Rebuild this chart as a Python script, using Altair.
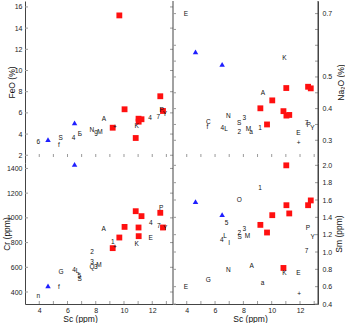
import altair as alt
import pandas as pd

# ---------------- data ----------------
# red squares (9 samples)
red_sc = [9.2, 9.67, 10.04, 10.83, 11.03, 11.04, 11.24, 12.57, 12.76]
red_feo = [4.6, 15.2, 6.34, 3.63, 5.45, 5.17, 5.4, 7.57, 6.18]
red_na2o = [0.401, 0.35, 0.426, 0.392, 0.465, 0.378, 0.38, 0.469, 0.464]
red_cr = [755, 841, 927, 1054, 922, 852, 1014, 1041, 922]
red_sm = [1.313, 1.225, 1.425, 0.816, 2.0, 1.54, 1.445, 1.54, 1.595]

# blue triangles (2 samples)
blue_sc = [4.62, 6.5]
blue_feo = [3.47, 5.05]
blue_na2o = [0.579, 0.54]
blue_cr = [449, 1433]
blue_sm = [1.58, 1.43]

# labelled points, FeO panel
feo_txt = ["6", "S", "f", "4", "Б", "N", "g", "M", "A", "+", "K", "4", "7", "P", "Y"]
feo_sc = [3.93, 5.51, 5.39, 6.43, 6.88, 7.72, 8.02, 8.3, 8.58, 9.36, 10.9, 11.84, 12.43, 12.66, 12.9]
feo_val = [3.23, 3.6, 2.94, 3.6, 3.98, 4.36, 4.15, 4.2, 5.45, 4.67, 4.73, 5.55, 5.6, 6.27, 5.93]

# labelled points, Na2O panel
na_txt = ["E", "K", "A", "N", "C", "f", "3", "S", "4", "L", "2", "M", "a", "1", "E", "+", "7", "P", "Y"]
na_sc = [3.95, 10.89, 9.38, 6.94, 5.53, 5.46, 8.07, 7.71, 6.51, 6.77, 7.71, 8.35, 8.54, 9.17, 11.88, 11.9, 12.47, 12.62, 12.87]
na_val = [0.70, 0.559, 0.449, 0.377, 0.359, 0.342, 0.371, 0.354, 0.34, 0.337, 0.327, 0.337, 0.326, 0.34, 0.324, 0.292, 0.355, 0.347, 0.338]

# labelled points, Cr panel
cr_txt = ["n", "f", "G", "4", "L", "5", "S", "2", "3", "Q", "3", "M", "A", "1", "+", "K", "E", "4", "7", "Y", "P"]
cr_sc = [3.93, 5.39, 5.54, 6.46, 6.72, 6.83, 6.86, 7.73, 7.73, 7.73, 8.0, 8.23, 8.56, 9.2, 9.36, 10.9, 11.89, 11.9, 12.47, 12.92, 12.64]
cr_val = [365, 438, 560, 576, 568, 527, 507, 720, 646, 602, 600, 617, 906, 803, 765, 792, 838, 957, 938, 922, 1081]

# labelled points, Sm panel
sm_txt = ["1", "O", "5", "3", "2", "S", "M", "L", "4", "I", "P", "Y", "7", "A", "N", "K", "E", "G", "a", "E", "+"]
sm_sc = [9.17, 7.71, 6.82, 8.07, 7.71, 7.73, 8.28, 6.7, 6.47, 7.0, 12.56, 12.89, 12.47, 8.59, 6.94, 10.89, 11.88, 5.53, 9.36, 3.95, 11.93]
sm_val = [1.74, 1.595, 1.337, 1.26, 1.22, 1.17, 1.18, 1.19, 1.136, 1.10, 1.28, 1.17, 1.017, 0.836, 0.797, 0.76, 0.76, 0.68, 0.643, 0.60, 0.516]

# tick values
sc_labels = [4, 6, 8, 10, 12]
sc_minor = [4, 5, 6, 7, 8, 9, 10, 11, 12, 13]
feo_ticks = [2, 4, 6, 8, 10, 12, 14, 16]
na_ticks = [0.3, 0.4, 0.5, 0.7]
na_minor = [0.3, 0.35, 0.4, 0.45, 0.5, 0.55, 0.6, 0.65, 0.7]
cr_ticks = [400, 600, 800, 1000, 1200, 1400]
sm_ticks = [0.4, 0.6, 0.8, 1.0, 1.2, 1.4, 1.6, 1.8, 2.0]

# ---------------- layout ----------------
WL, WR = 148, 145
HT, HB = 162, 141
XDOM_L = [2.99, 13.47]
XDOM_R = [3.03, 13.27]
FONT = "Liberation Sans"
TICKC = "#9a9a9a"
AXC = "#444444"


def yaxis(side, title, values, fmt, h, tx):
    left = side == "left"
    return alt.Axis(orient=side, values=values, format=fmt, domain=True,
                    domainColor=AXC, domainWidth=1, ticks=False, grid=False,
                    labelFontSize=7, labelFont=FONT, labelColor="#222",
                    labelPadding=3 if left else 4,
                    title=title, titleFont=FONT, titleFontSize=8.5,
                    titleFontWeight="normal", titleColor="#111",
                    titleAngle=270, titleBaseline="middle", titleAlign="center",
                    titleX=tx, titleY=h / 2)


def xaxis(tx):
    return alt.Axis(orient="bottom", values=sc_labels, format="d", domain=True,
                    domainColor=AXC, domainWidth=1, ticks=False, grid=False,
                    labelFontSize=7, labelFont=FONT, labelColor="#222",
                    labelPadding=2, title="Sc (ppm)", titleFont=FONT,
                    titleFontSize=8.5, titleFontWeight="normal", titleColor="#111",
                    titleBaseline="middle", titleAlign="center", titleX=tx, titleY=14)


def panel(rx, ry, bx, by, tt, tx, ty, xdom, ydom, w, h, yax, xax, yt, xt_bottom):
    X = alt.X("x:Q", scale=alt.Scale(domain=xdom, nice=False, zero=False), axis=xax)
    Y = alt.Y("y:Q", scale=alt.Scale(domain=ydom, nice=False, zero=False), axis=yax)
    ticks_y = pd.DataFrame({"y": yt})
    ticks_x = pd.DataFrame({"x": sc_minor})
    layers = [
        alt.Chart(ticks_y).mark_rule(color=TICKC, strokeWidth=1).encode(
            y=Y, x=alt.value(0), x2=alt.value(3)),
        alt.Chart(ticks_y).mark_rule(color=TICKC, strokeWidth=1).encode(
            y=Y, x=alt.value(w - 3), x2=alt.value(w)),
        alt.Chart(ticks_x).mark_rule(color=TICKC, strokeWidth=1).encode(
            x=X, y=alt.value(h - xt_bottom - 3), y2=alt.value(h - xt_bottom)),
        alt.Chart(pd.DataFrame({"x": [0]})).mark_rule(color=AXC, strokeWidth=1).encode(
            x=alt.value(w), y=alt.value(0), y2=alt.value(h)),
        alt.Chart(pd.DataFrame({"x": rx, "y": ry})).mark_square(
            color="#ff1010", size=34, opacity=1, clip=False).encode(x=X, y=Y),
        alt.Chart(pd.DataFrame({"x": bx, "y": by})).mark_point(
            shape="triangle-up", filled=True, color="#1f1fff", size=30, opacity=1,
            clip=False).encode(x=X, y=Y),
        alt.Chart(pd.DataFrame({"x": tx, "y": ty, "t": tt})).mark_text(
            font=FONT, fontSize=6.5, color="#111", clip=False).encode(x=X, y=Y, text="t:N"),
    ]
    return alt.layer(*layers).properties(width=w, height=h)


tl = panel(red_sc, red_feo, blue_sc, blue_feo, feo_txt, feo_sc, feo_val,
           XDOM_L, [1.27, 16.56], WL, HT,
           yaxis("left", "FeO (%)", feo_ticks, "d", HT, -13.5), None, feo_ticks, 6)
tr = panel(red_sc, red_na2o, blue_sc, blue_na2o, na_txt, na_sc, na_val,
           XDOM_R, [0.2283, 0.7398], WR, HT,
           yaxis("right", "Na₂O (%)", na_ticks, ".1f", HT, 22), None, na_minor, 6)
bl = panel(red_sc, red_cr, blue_sc, blue_cr, cr_txt, cr_sc, cr_val,
           XDOM_L, [303, 1444], WL, HB,
           yaxis("left", "Cr (ppm)", cr_ticks, "d", HB, -18.5), xaxis(55), cr_ticks, 0)
br = panel(red_sc, red_sm, blue_sc, blue_sm, sm_txt, sm_sc, sm_val,
           XDOM_R, [0.4, 2.027], WR, HB,
           yaxis("right", "Sm (ppm)", sm_ticks, ".1f", HB, 20), xaxis(77), sm_ticks, 0)

chart = alt.concat(tl, tr, bl, br, columns=2, spacing=0, bounds="flush").properties(
    padding={"left": 2, "top": 0, "right": 0, "bottom": 0}
).configure_view(stroke=None)

chart.save("out.html", embed_options={"renderer": "svg", "actions": False})
